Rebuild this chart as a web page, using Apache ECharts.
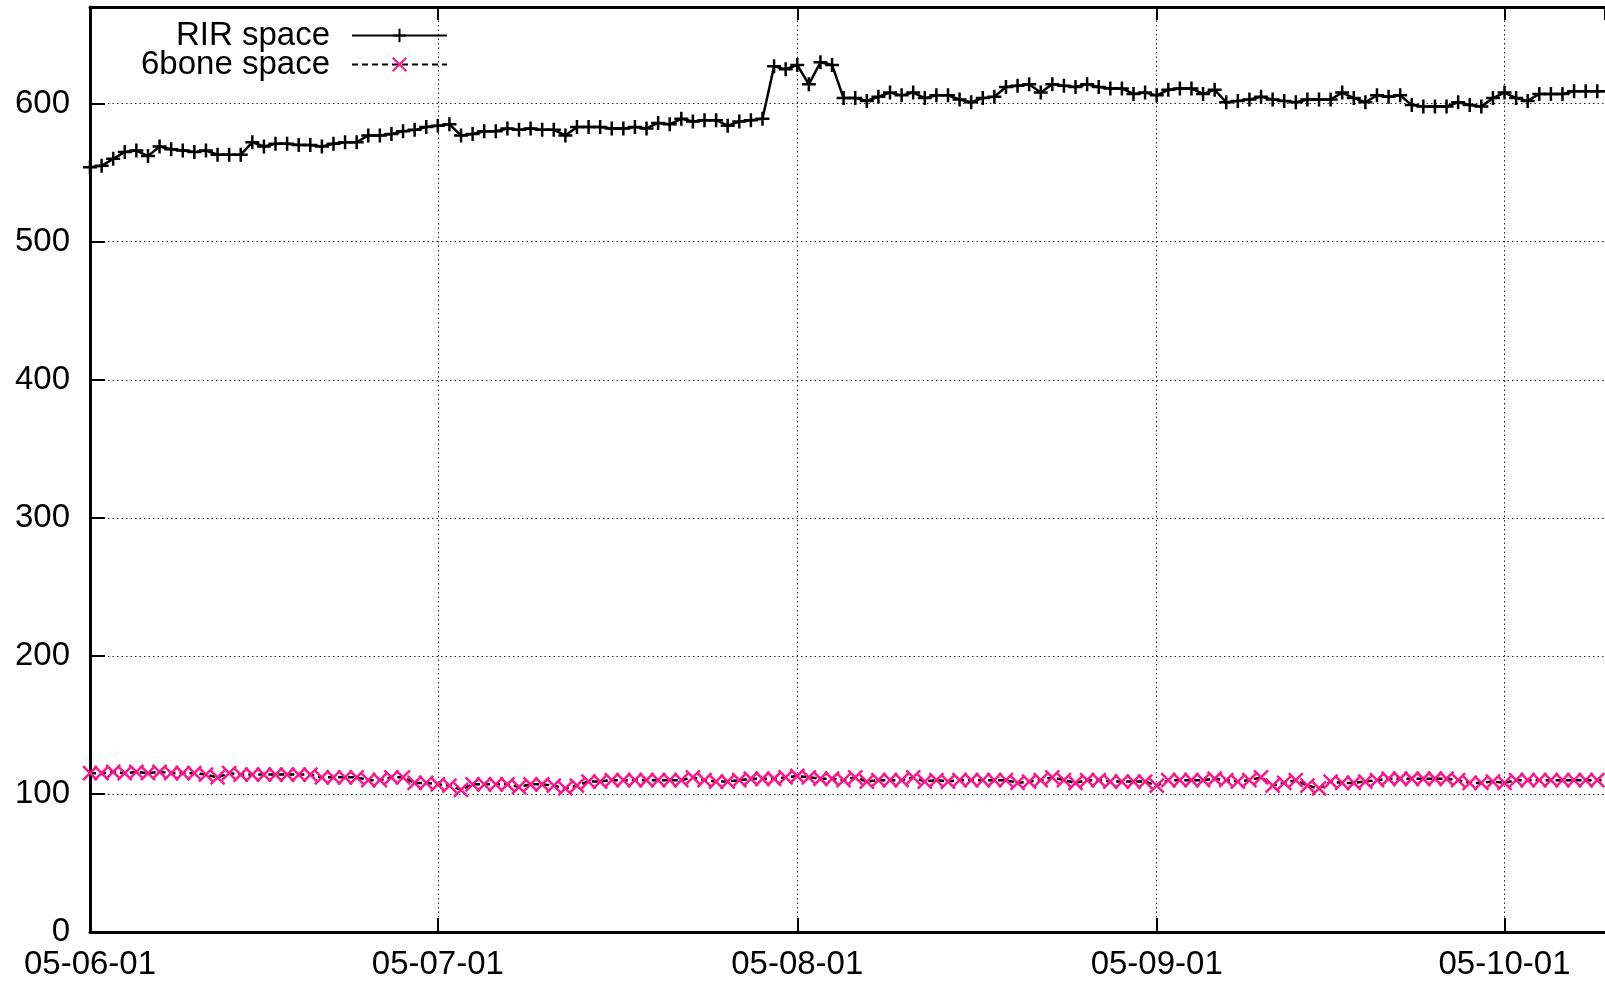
<!DOCTYPE html>
<html>
<head>
<meta charset="utf-8">
<script src="https://cdn.jsdelivr.net/npm/echarts@6/dist/echarts.min.js"></script>
<style>
html,body{margin:0;padding:0;background:#fff;}
#chart{width:1605px;height:981px;}
</style>
</head>
<body>
<div id="chart"></div>
<script>
const dates = [
 '2005-06-01','2005-06-02','2005-06-03','2005-06-04','2005-06-05','2005-06-06','2005-06-07','2005-06-08','2005-06-09','2005-06-10',
 '2005-06-11','2005-06-12','2005-06-13','2005-06-14','2005-06-15','2005-06-16','2005-06-17','2005-06-18','2005-06-19','2005-06-20',
 '2005-06-21','2005-06-22','2005-06-23','2005-06-24','2005-06-25','2005-06-26','2005-06-27','2005-06-28','2005-06-29','2005-06-30',
 '2005-07-01','2005-07-02','2005-07-03','2005-07-04','2005-07-05','2005-07-06','2005-07-07','2005-07-08','2005-07-09','2005-07-10',
 '2005-07-11','2005-07-12','2005-07-13','2005-07-14','2005-07-15','2005-07-16','2005-07-17','2005-07-18','2005-07-19','2005-07-20',
 '2005-07-21','2005-07-22','2005-07-23','2005-07-24','2005-07-25','2005-07-26','2005-07-27','2005-07-28','2005-07-29','2005-07-30',
 '2005-07-31','2005-08-01','2005-08-02','2005-08-03','2005-08-04','2005-08-05','2005-08-06','2005-08-07','2005-08-08','2005-08-09',
 '2005-08-10','2005-08-11','2005-08-12','2005-08-13','2005-08-14','2005-08-15','2005-08-16','2005-08-17','2005-08-18','2005-08-19',
 '2005-08-20','2005-08-21','2005-08-22','2005-08-23','2005-08-24','2005-08-25','2005-08-26','2005-08-27','2005-08-28','2005-08-29',
 '2005-08-30','2005-08-31','2005-09-01','2005-09-02','2005-09-03','2005-09-04','2005-09-05','2005-09-06','2005-09-07','2005-09-08',
 '2005-09-09','2005-09-10','2005-09-11','2005-09-12','2005-09-13','2005-09-14','2005-09-15','2005-09-16','2005-09-17','2005-09-18',
 '2005-09-19','2005-09-20','2005-09-21','2005-09-22','2005-09-23','2005-09-24','2005-09-25','2005-09-26','2005-09-27','2005-09-28',
 '2005-09-29','2005-09-30','2005-10-01','2005-10-02','2005-10-03','2005-10-04','2005-10-05','2005-10-06','2005-10-07','2005-10-08',
 '2005-10-09','2005-10-10'
];

const rirSpace = [
 554,555,560,565,566,562,569,567,566,565,
 566,563,563,563,572,569,571,571,570,570,
 569,571,572,572,577,577,578,580,581,583,
 584,585,577,578,580,580,582,581,582,581,
 581,577,583,583,583,582,582,583,582,586,
 585,589,587,588,588,584,587,588,589,627,
 625,628,614,630,628,604,604,602,605,608,
 606,608,604,606,606,603,601,604,605,612,
 613,614,608,614,613,612,614,612,611,611,
 607,608,606,610,611,611,607,610,601,602,
 603,605,603,602,601,603,603,603,608,604,
 601,606,605,606,599,598,598,598,601,599,
 598,604,608,604,602,607,607,607,609,609,
 609,609
];

const sixboneSpace = [
 115,115,116,115,116,115,116,115,115,115,
 114,112,115,114,114,114,114,114,114,114,
 112,112,112,112,110,110,112,112,108,108,
 107,106,103,107,107,107,107,105,107,107,
 106,104,106,109,109,110,110,110,110,110,
 110,110,112,110,109,109,110,111,111,111,
 112,113,112,111,111,110,112,109,110,110,
 110,112,109,110,109,110,110,110,110,110,
 108,109,110,112,110,108,110,110,109,109,
 109,109,106,110,110,110,110,111,110,109,
 110,112,106,108,110,106,104,109,108,108,
 109,110,111,111,111,111,111,111,110,108,
 108,109,108,110,110,110,110,110,110,110,
 110,110
];

const seriesNames = ['RIR space', '6bone space'];
const yTickLabels = [0, 100, 200, 300, 400, 500, 600];

const FONT = 'Liberation Sans';
const FS = 33;
const xMin = '2005-06-01 00:00:00';
const xMax = '2005-10-09 16:00:00';
const DAY = 24 * 3600 * 1000;

const chart = echarts.init(document.getElementById('chart'), null, {renderer: 'canvas'});

const axisLineStyle = {color: '#000', width: 3};
const gridDots = {color: '#222', width: 1, type: [1.5, 3]};

const option = {
  animation: false,
  backgroundColor: '#fff',
  grid: {left: 90, right: 0, top: 7, bottom: 45, containLabel: false},
  legend: {
    data: seriesNames,
    orient: 'vertical',
    left: 140,
    top: 19,
    align: 'right',
    padding: 0,
    itemGap: -4,
    itemWidth: 95,
    itemHeight: 17,
    textStyle: {fontFamily: FONT, fontSize: FS, color: '#000', width: 190, align: 'right', lineHeight: 29, padding: [0, 17, 0, 0]}
  },
  xAxis: [{
    type: 'time',
    min: xMin,
    max: xMax,
    minInterval: 28 * DAY,
    maxInterval: 31 * DAY,
    position: 'bottom',
    axisLine: {show: true, onZero: false, lineStyle: axisLineStyle},
    axisTick: {show: true, inside: true, length: 14, lineStyle: {color: '#000', width: 2}},
    axisLabel: {
      show: true, margin: 16, color: '#000', fontFamily: FONT, fontSize: FS,
      showMaxLabel: false, showMinLabel: true, hideOverlap: false,
      formatter: function (v) { return echarts.time.format(v, '{yy}-{MM}-{dd}', false); }
    },
    splitLine: {show: true, lineStyle: gridDots}
  }, {
    type: 'time',
    min: xMin,
    max: xMax,
    minInterval: 28 * DAY,
    maxInterval: 31 * DAY,
    position: 'top',
    axisLine: {show: true, onZero: false, lineStyle: axisLineStyle},
    axisTick: {show: true, inside: true, length: 13, lineStyle: {color: '#000', width: 2}},
    axisLabel: {show: false},
    splitLine: {show: false}
  }],
  yAxis: {
    type: 'value',
    min: 0,
    max: 670,
    interval: 100,
    axisLine: {show: true, onZero: false, lineStyle: axisLineStyle},
    axisTick: {show: true, inside: true, length: 15, lineStyle: {color: '#000', width: 2}},
    axisLabel: {
      margin: 20, color: '#000', fontFamily: FONT, fontSize: FS,
      formatter: function (v) { return yTickLabels.indexOf(v) >= 0 ? String(v) : ''; }
    },
    splitLine: {show: true, lineStyle: gridDots}
  },
  series: [{
    name: seriesNames[0],
    type: 'line',
    xAxisIndex: 0,
    data: dates.map((d, i) => [d, rirSpace[i]]),
    showSymbol: true,
    showAllSymbol: true,
    symbol: 'path://M0,6L12,6M6,0L6,12',
    symbolSize: 14,
    clip: true,
    lineStyle: {color: '#000', width: 2.5},
    itemStyle: {color: '#000', borderColor: '#000', borderWidth: 2.5},
    emphasis: {disabled: true},
    z: 3
  }, {
    name: seriesNames[1],
    type: 'line',
    xAxisIndex: 0,
    data: dates.map((d, i) => [d, sixboneSpace[i]]),
    showSymbol: true,
    showAllSymbol: true,
    symbol: 'path://M0,0L12,12M12,0L0,12',
    symbolSize: 14,
    clip: true,
    lineStyle: {color: '#000', width: 2.5, type: [6, 4]},
    itemStyle: {color: '#ff148c', borderColor: '#ff148c', borderWidth: 2.5},
    emphasis: {disabled: true},
    z: 2
  }]
};

chart.setOption(option);
</script>
</body>
</html>
